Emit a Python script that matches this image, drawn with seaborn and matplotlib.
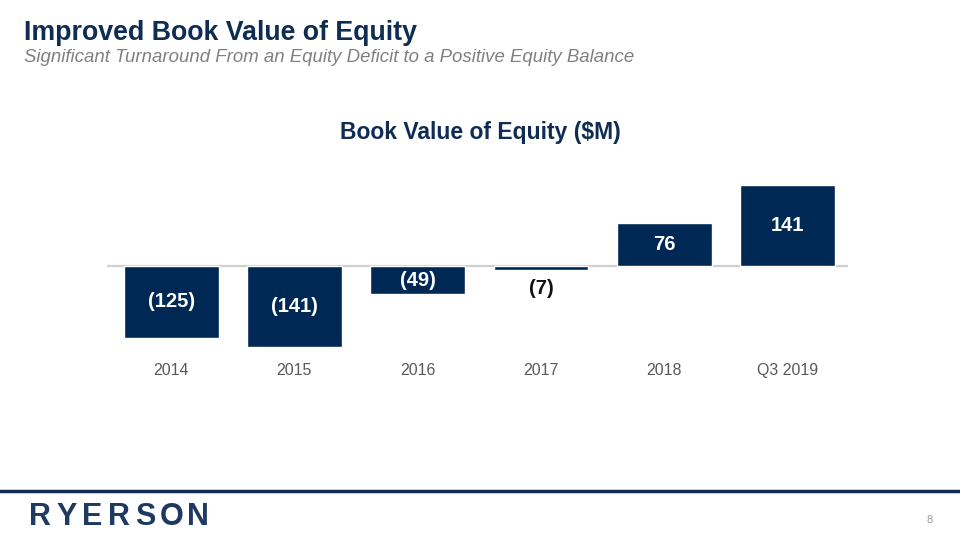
import numpy as np
import pandas as pd
import matplotlib
matplotlib.use("Agg")
import matplotlib.pyplot as plt
import seaborn as sns

# Dados do gráfico
periods = ["2014", "2015", "2016", "2017", "2018", "Q3 2019"]
equity = [-125, -141, -49, -7, 76, 141]
labels = ["(125)", "(141)", "(49)", "(7)", "76", "141"]

NAVY = "#002855"
GRAY = "#595959"

sns.set_theme(style="white")
plt.rcParams["font.family"] = ["Liberation Sans", "DejaVu Sans"]

df = pd.DataFrame({"period": periods, "equity": equity})

fig = plt.figure(figsize=(9.6, 5.4), dpi=100)
ax = fig.add_axes([107 / 960, 0.348, 741 / 960, 0.3185])

sns.barplot(data=df, x="period", y="equity", color=NAVY, width=0.77,
            saturation=1, ax=ax)

ax.axhline(0, color="#d0d0d0", lw=1.6, zorder=0.5)
ax.set_xlim(-0.52, 5.49)
ax.set_ylim(-150, 150)
ax.set_xlabel("")
ax.set_ylabel("")
ax.set_yticks([])
ax.tick_params(axis="x", length=0, colors=GRAY, labelsize=11.5, pad=8)
for s in ax.spines.values():
    s.set_visible(False)

# Rótulos das barras
for i, (v, lab) in enumerate(zip(equity, labels)):
    if abs(v) < 20:
        ax.text(i, v - 16, lab, ha="center", va="top", color="#111111",
                fontsize=14.5, fontweight="bold")
    else:
        ax.text(i, v / 2, lab, ha="center", va="center", color="white",
                fontsize=14.5, fontweight="bold")

# Cabeçalho do slide
fig.text(24 / 960, 1 - 33 / 540, "Improved Book Value of Equity", ha="left",
         va="center", color="#0f2d52", fontsize=19.3, fontweight="bold")
fig.text(24 / 960, 1 - 58 / 540,
         "Significant Turnaround From an Equity Deficit to a Positive Equity Balance",
         ha="left", va="center", color="#808080", fontsize=13.4, style="italic")
fig.text(0.5, 1 - 133 / 540, "Book Value of Equity ($M)", ha="center",
         va="center", color="#0f2d52", fontsize=16.5, fontweight="bold")

# Rodapé
fig.add_artist(plt.Line2D([0, 1], [1 - 491 / 540] * 2, color="#0f2d52", lw=2.5))
for k, ch in enumerate("RYERSON"):
    fig.text((40 + 26.3 * k) / 960, 1 - 517 / 540, ch, ha="center",
             va="center", color="#1f3a60", fontsize=22, fontweight="bold")
fig.text(930 / 960, 1 - 520 / 540, "8", ha="center", va="center",
         color="#999999", fontsize=8)

fig.savefig("out.png", dpi=100)
